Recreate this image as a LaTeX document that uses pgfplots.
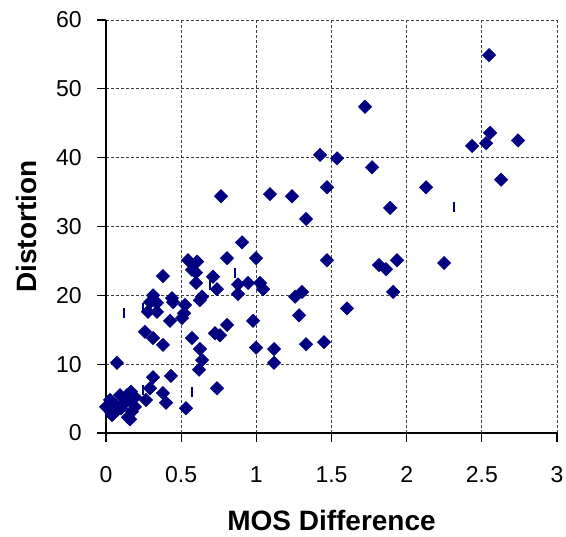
\documentclass[border=0pt]{standalone}
\usepackage{pgfplots}
\pgfplotsset{compat=1.18}
\usepackage{fontspec}
\setmainfont{Liberation Sans}
\definecolor{navy}{RGB}{0,0,128}
\begin{document}
\begin{tikzpicture}
\useasboundingbox (-53pt,-51.5pt) rectangle (230pt,216.5pt);
\begin{axis}[
  at={(0,0)}, anchor=south west,
  scale only axis,
  width=225.5pt, height=206.5pt,
  xmin=0, xmax=3, ymin=0, ymax=60,
  xtick={0,0.5,1,1.5,2,2.5,3},
  ytick={0,10,20,30,40,50,60},
  axis lines*=left,
  axis line style={black, line width=0.6pt},
  tick align=outside,
  major tick length=4.5pt,
  tick style={black, line width=0.6pt},
  grid=major,
  major grid style={dash pattern=on 1.5pt off 1pt, line width=0.5pt, black!75},
  /pgf/number format/assume math mode=true,
  tick label style={font=\fontsize{11.5}{14}\selectfont},
  xticklabel style={anchor=north, inner sep=0pt, yshift=-12pt},
  yticklabel style={anchor=east, inner sep=0pt, xshift=-7.5pt},
  label style={font=\fontsize{14}{17}\selectfont\bfseries},
  xlabel={MOS Difference},
  ylabel={Distortion},
  xlabel style={at={([yshift=-48.5pt]axis description cs:0.5,0)}, anchor=base, inner sep=0pt},
  ylabel style={at={([xshift=-34.5pt]axis description cs:0,0.5)}, anchor=base, inner sep=0pt},
  clip=false,
]
\addplot[only marks, mark=square*, mark size=2.3pt, mark options={rotate=45, fill=navy, draw=navy}, color=navy] coordinates {
(0.000,3.8) (0.027,4.8) (0.033,3.1) (0.060,4.1) (0.073,3.3) (0.100,3.6)
(0.093,5.5) (0.146,2.3) (0.166,6.0) (0.166,4.8) (0.193,3.8) (0.126,4.4)
(0.040,2.6) (0.173,3.1) (0.140,5.5) (0.193,5.2) (0.160,2.0)
(0.073,10.2) (0.266,4.8) (0.293,6.5) (0.313,8.1) (0.379,5.8) (0.399,4.4)
(0.432,8.3) (0.532,3.6) (0.738,6.5) (0.619,9.2) (0.639,10.6) (0.625,12.2)
(0.572,13.8) (0.379,12.8) (0.313,13.8) (0.259,14.7) (0.279,17.6) (0.339,17.6)
(0.426,16.3) (0.506,16.7) (0.519,17.4) (0.526,18.6) (0.293,19.0) (0.313,20.0)
(0.339,18.9) (0.439,19.6) (0.446,19.0) (0.625,19.3) (0.639,19.8) (0.599,21.8)
(0.379,22.8) (0.546,25.1) (0.606,24.9) (0.572,23.7) (0.599,23.3) (0.712,22.7)
(0.738,20.9) (0.725,14.5) (0.758,14.2) (0.805,15.7) (0.765,34.4) (0.805,25.4)
(0.878,21.6) (0.878,20.2) (0.905,27.7) (0.945,21.8) (0.978,16.3) (0.998,25.4)
(0.998,12.4) (1.025,21.8) (1.045,20.9) (1.118,12.2) (1.118,10.2) (1.091,34.7)
(1.237,34.4) (1.258,19.8) (1.304,20.5) (1.284,17.1) (1.331,12.9) (1.331,31.1)
(1.424,40.4) (1.450,13.2) (1.470,35.7) (1.470,25.1) (1.537,39.9) (1.603,18.1)
(1.723,47.4) (1.770,38.6) (1.816,24.4) (1.863,23.8) (1.890,32.7) (1.910,20.5)
(1.936,25.1) (2.129,35.7) (2.249,24.7) (2.435,41.7) (2.528,42.1) (2.555,43.6)
(2.548,54.9) (2.628,36.8) (2.741,42.5)
};
\addplot[only marks, mark=|, mark size=2.5pt, mark options={line width=0.8pt, draw=navy}, color=navy] coordinates {
(0.120,17.4) (0.246,18.2) (0.246,6.2) (0.572,6.0) (0.858,23.2) (0.690,21.5) (2.315,32.8)
};
\end{axis}
\end{tikzpicture}
\end{document}
